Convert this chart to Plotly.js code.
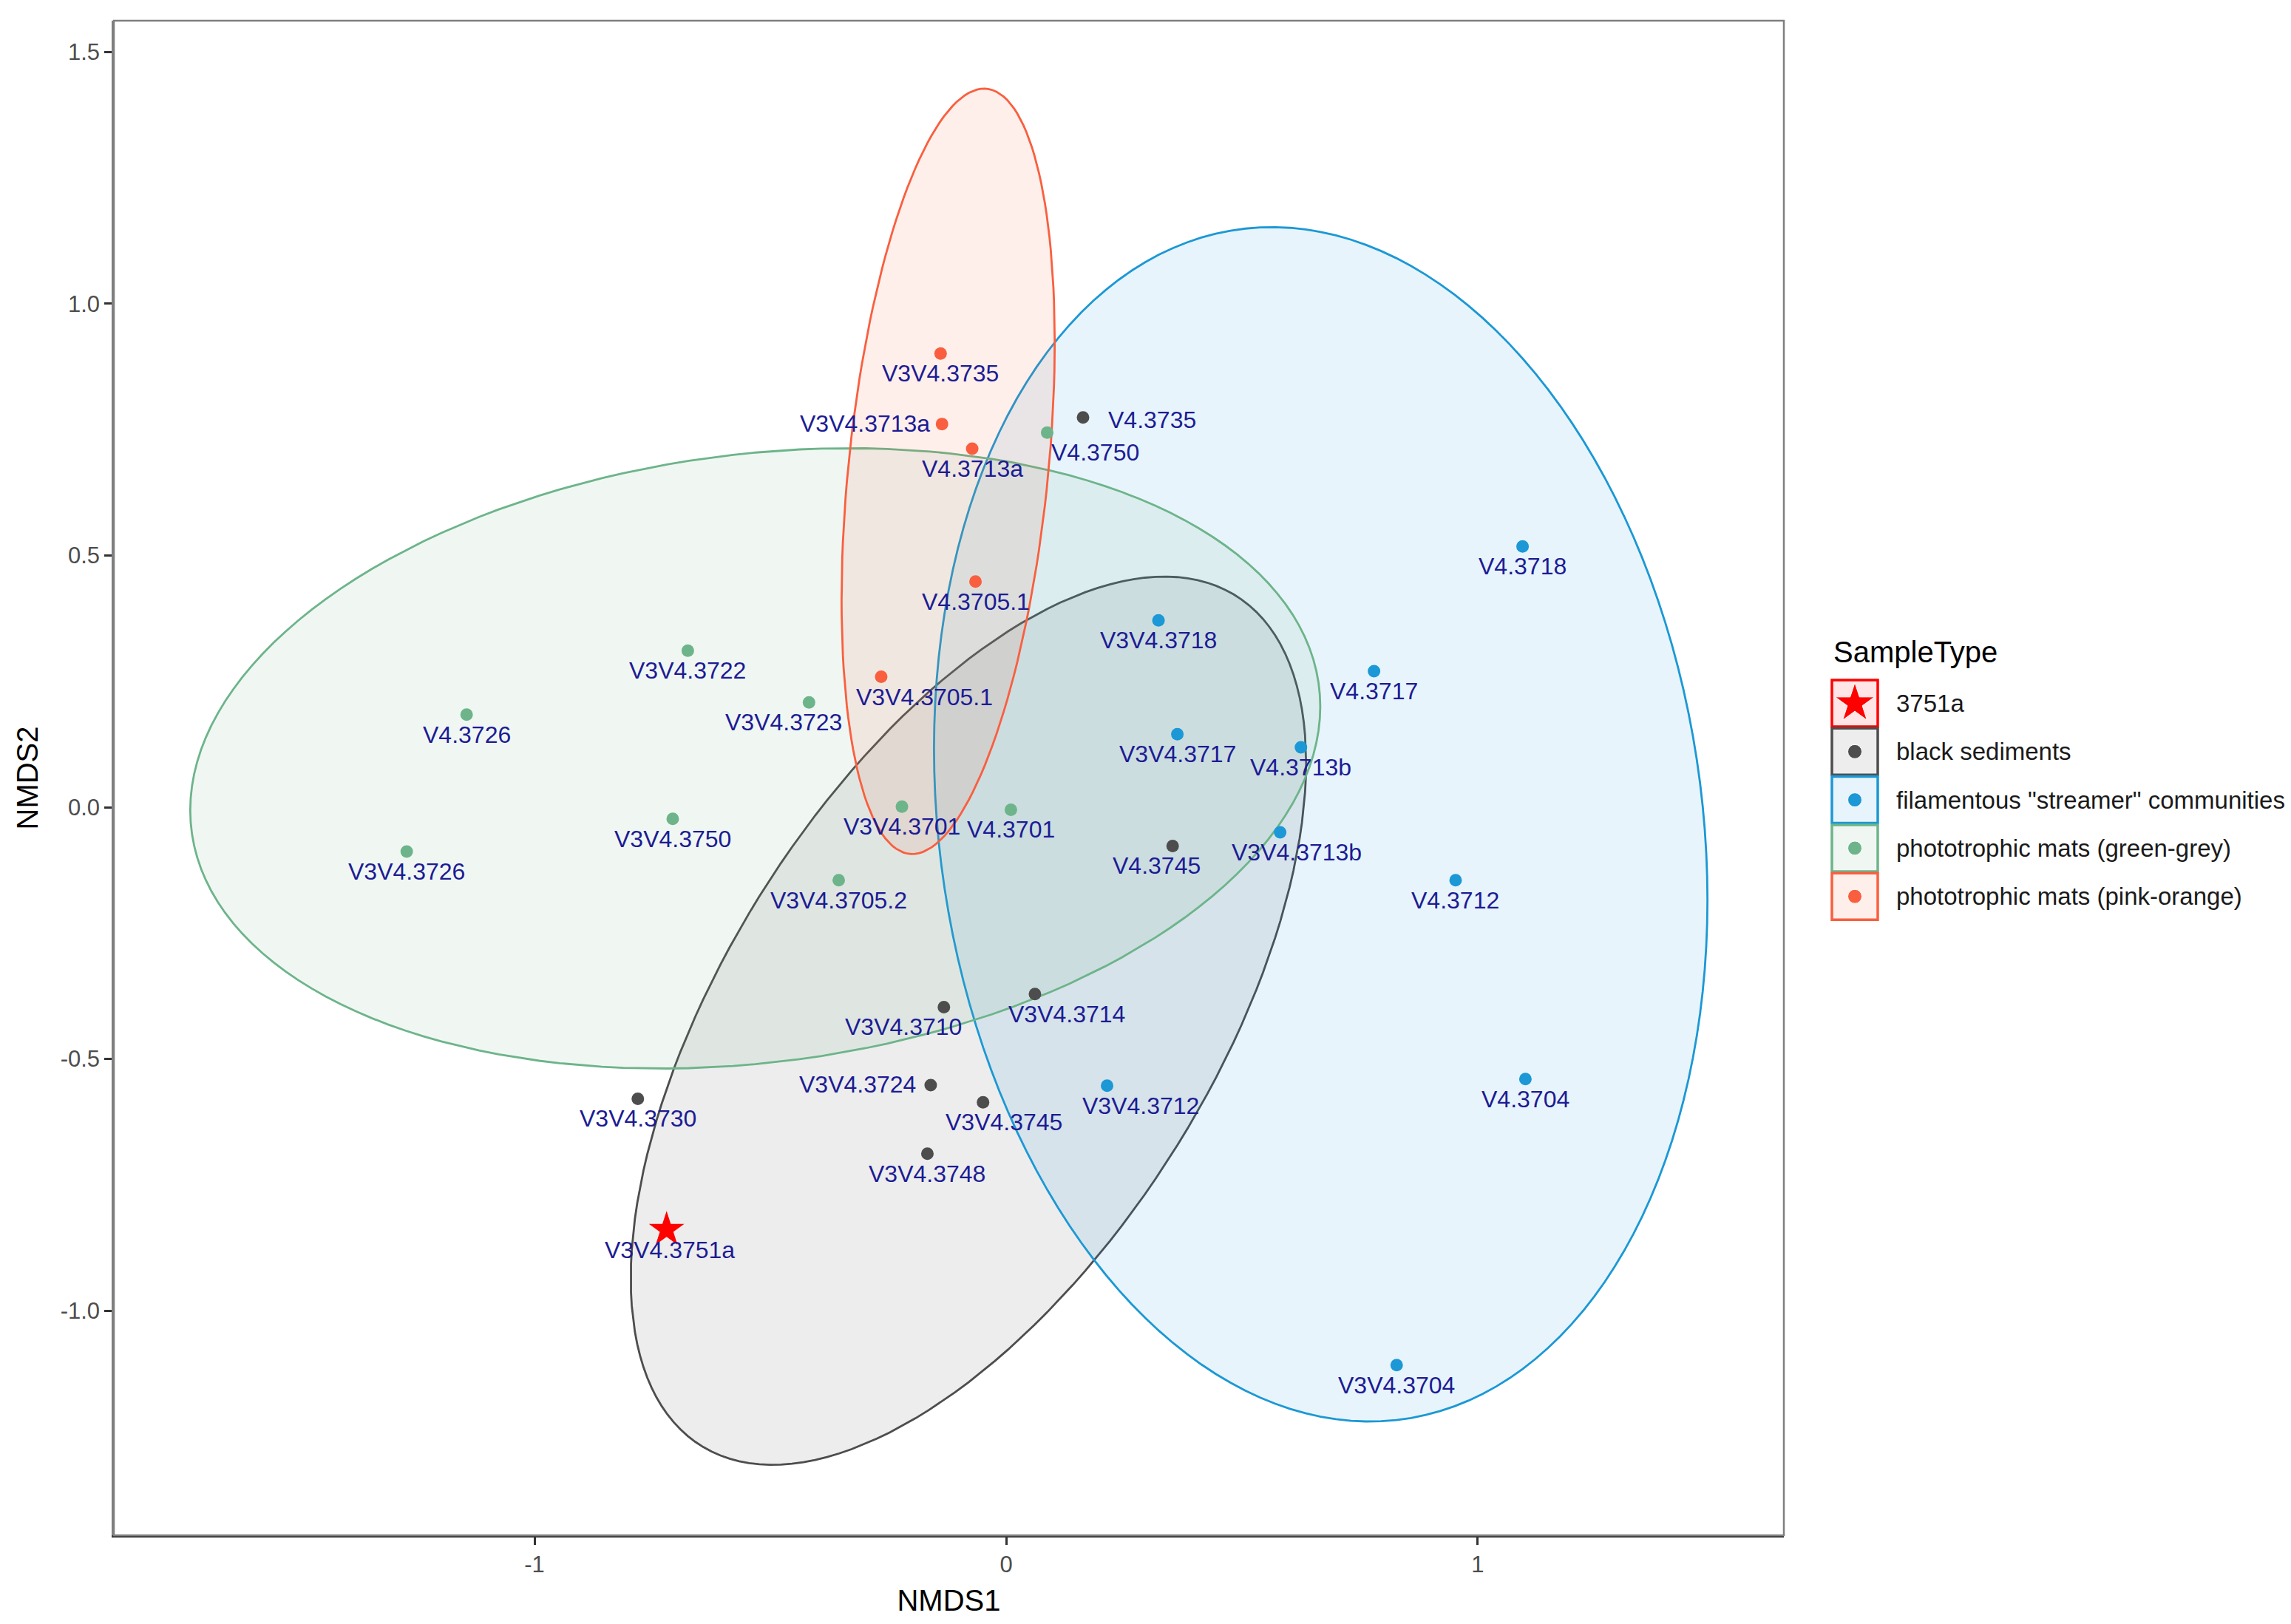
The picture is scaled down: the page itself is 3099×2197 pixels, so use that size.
<!DOCTYPE html>
<html>
<head>
<meta charset="utf-8">
<script src="https://cdn.plot.ly/plotly-3.0.1.min.js"></script>
<style>html,body{margin:0;padding:0;background:#fff;}#chart{width:3099px;height:2197px;}</style>
</head>
<body>
<div id="chart"></div>
<script>
// ---------------- data ----------------
const legendTitle = 'SampleType';
const groupNames = ['3751a', 'black sediments', 'filamentous "streamer" communities',
                    'phototrophic mats (green-grey)', 'phototrophic mats (pink-orange)'];

const starLabels = ['V3V4.3751a'];
const starX = [-0.720];
const starY = [-0.839];

const blackLabels = ['V4.3735','V4.3745','V3V4.3710','V3V4.3714','V3V4.3724','V3V4.3745','V3V4.3730','V3V4.3748'];
const blackX = [0.163, 0.353, -0.132, 0.061, -0.160, -0.049, -0.781, -0.167];
const blackY = [0.774, -0.077, -0.397, -0.371, -0.552, -0.586, -0.579, -0.688];

const blueLabels = ['V4.3718','V3V4.3718','V4.3717','V3V4.3717','V4.3713b','V3V4.3713b','V4.3712','V4.3704','V3V4.3712','V3V4.3704'];
const blueX = [1.095, 0.323, 0.780, 0.363, 0.625, 0.581, 0.953, 1.101, 0.214, 0.828];
const blueY = [0.518, 0.371, 0.270, 0.145, 0.119, -0.050, -0.145, -0.540, -0.553, -1.108];

const greenLabels = ['V4.3726','V3V4.3722','V3V4.3723','V3V4.3750','V3V4.3726','V3V4.3701','V4.3701','V3V4.3705.2','V4.3750'];
const greenX = [-1.144, -0.675, -0.418, -0.707, -1.271, -0.221, 0.010, -0.355, 0.087];
const greenY = [0.184, 0.311, 0.208, -0.023, -0.088, 0.001, -0.005, -0.145, 0.744];

const pinkLabels = ['V3V4.3735','V3V4.3713a','V4.3713a','V4.3705.1','V3V4.3705.1'];
const pinkX = [-0.139, -0.136, -0.072, -0.065, -0.265];
const pinkY = [0.901, 0.761, 0.712, 0.448, 0.259];

// ellipse estimates (data units): centre, half-width in x, half-height in y, y-offset of the x-extreme point
const ellBlack = {cx: -0.080, cy: -0.424, hx: 0.716, hy: 0.882, dy: 0.512};
const ellBlue  = {cx: 0.667,  cy: -0.034, hx: 0.820, hy: 1.186, dy: -0.150};
const ellGreen = {cx: -0.532, cy: 0.097,  hx: 1.198, hy: 0.616, dy: 0.103};
const ellPink  = {cx: -0.123, cy: 0.667,  hx: 0.226, hy: 0.760, dy: 0.256};

const xTickVals = [-1, 0, 1];
const xTickText = ['-1', '0', '1'];
const yTickVals = [-1.0, -0.5, 0.0, 0.5, 1.0, 1.5];
const yTickText = ['-1.0', '-0.5', '0.0', '0.5', '1.0', '1.5'];

// ---------------- styling ----------------
const colBlack = '#4d4d4d', colBlue = '#1b98d5', colGreen = '#6db48a', colPink = '#f95f3f', colStar = '#ff0000';
const groupColors = [colStar, colBlack, colBlue, colGreen, colPink];
const labelColor = '#1c1c94';
const FONT = 'Liberation Sans, Arial, Helvetica, sans-serif';

// label placement (pixel nudges, like the repelled labels of the original)
const labelNudge = {
  'V3V4.3710': -55, 'V3V4.3714': 43, 'V3V4.3745': 28, 'V3V4.3713b': 22, 'V4.3750': 65,
  'V3V4.3705.1': 59, 'V3V4.3723': -34, 'V3V4.3712': 45, 'V4.3745': -22, 'V3V4.3751a': 4
};
const labelLeft = {'V3V4.3713a': 14, 'V3V4.3724': 18};
const labelRight = {'V4.3735': 32};

function hexToRgba(h, a) {
  const r = parseInt(h.slice(1,3),16), g = parseInt(h.slice(3,5),16), b = parseInt(h.slice(5,7),16);
  return 'rgba(' + r + ',' + g + ',' + b + ',' + a + ')';
}

function ellipsePath(e) {
  const n = 160, xs = [], ys = [];
  const S = Math.sqrt(Math.max(e.hy*e.hy - e.dy*e.dy, 0));
  for (let i = 0; i <= n; i++) {
    const t = 2*Math.PI*i/n;
    xs.push(e.cx + e.hx*Math.cos(t));
    ys.push(e.cy + e.dy*Math.cos(t) + S*Math.sin(t));
  }
  return {x: xs, y: ys};
}

function ellipseTrace(e, name, col) {
  const p = ellipsePath(e);
  return {
    type: 'scatter', mode: 'lines', x: p.x, y: p.y, name: name,
    fill: 'toself', fillcolor: hexToRgba(col, 0.1),
    line: {color: col, width: 2.8}, hoverinfo: 'skip', showlegend: false
  };
}

function pointTrace(xs, ys, labels, col, name, symbol, size) {
  return {
    type: 'scatter', mode: 'markers', x: xs, y: ys, text: labels, name: name,
    marker: {color: col, size: size, symbol: symbol}, showlegend: false,
    hovertemplate: '%{text}<extra>' + name + '</extra>'
  };
}

const traces = [
  ellipseTrace(ellBlack, groupNames[1], colBlack),
  ellipseTrace(ellBlue,  groupNames[2], colBlue),
  ellipseTrace(ellGreen, groupNames[3], colGreen),
  ellipseTrace(ellPink,  groupNames[4], colPink),
  pointTrace(blackX, blackY, blackLabels, colBlack, groupNames[1], 'circle', 17),
  pointTrace(blueX, blueY, blueLabels, colBlue, groupNames[2], 'circle', 17),
  pointTrace(greenX, greenY, greenLabels, colGreen, groupNames[3], 'circle', 17),
  pointTrace(pinkX, pinkY, pinkLabels, colPink, groupNames[4], 'circle', 17),
  pointTrace(starX, starY, starLabels, colStar, groupNames[0], 'star', 36)
];

// ---------------- point labels (annotations on the data points) ----------------
const allLabels = [].concat(starLabels, blackLabels, blueLabels, greenLabels, pinkLabels);
const allX = [].concat(starX, blackX, blueX, greenX, pinkX);
const allY = [].concat(starY, blackY, blueY, greenY, pinkY);
const annotations = allLabels.map((l, i) => {
  const a = {x: allX[i], y: allY[i], xref: 'x', yref: 'y', text: l, showarrow: false,
             font: {family: FONT, size: 32, color: labelColor}, xanchor: 'center', yanchor: 'middle',
             xshift: 0, yshift: -27};
  if (labelLeft[l] !== undefined) { a.xanchor = 'right'; a.xshift = -labelLeft[l]; a.yshift = 1; }
  else if (labelRight[l] !== undefined) { a.xanchor = 'left'; a.xshift = labelRight[l]; a.yshift = -3; }
  else if (labelNudge[l] !== undefined) { a.xshift = labelNudge[l]; }
  return a;
});

// ---------------- ggplot-style legend in its own (hidden, pixel-scaled) subplot ----------------
const W = 3099, H = 2197, ML = 154, MR = 10, MT = 28, MB = 120;
const plotW = W - ML - MR;
const mainRight = 2413;                  // right edge of the data panel (px)
const legLeft = 2440;                    // left edge of the legend area (px)
const keyX0 = 2478, keyX1 = 2540, keyTop0 = 920, keyH = 63, keyStep = 65.3, textX = 2563;
const legendKeyY = groupNames.map((g, i) => keyTop0 + i*keyStep + keyH/2);
const shapes = [{type: 'rect', xref: 'x domain', yref: 'y domain', x0: 0, x1: 1, y0: 0, y1: 1,
                 line: {color: '#7f7f7f', width: 2.5}, fillcolor: 'rgba(0,0,0,0)', layer: 'above'}];
groupNames.forEach((g, i) => {
  shapes.push({type: 'rect', xref: 'x2', yref: 'y2', x0: keyX0, x1: keyX1,
               y0: legendKeyY[i] - keyH/2, y1: legendKeyY[i] + keyH/2,
               line: {color: groupColors[i], width: 3.5}, fillcolor: hexToRgba(groupColors[i], 0.1), layer: 'below'});
  annotations.push({x: textX, y: legendKeyY[i], xref: 'x2', yref: 'y2', text: g, showarrow: false,
                    xanchor: 'left', yanchor: 'middle', font: {family: FONT, size: 33, color: '#1a1a1a'}});
});
annotations.push({x: keyX0, y: 882, xref: 'x2', yref: 'y2', text: legendTitle, showarrow: false,
                  xanchor: 'left', yanchor: 'middle', font: {family: FONT, size: 40, color: '#000'}});
traces.push({
  type: 'scatter', mode: 'markers', xaxis: 'x2', yaxis: 'y2',
  x: groupNames.map(() => (keyX0 + keyX1)/2), y: legendKeyY, text: groupNames,
  marker: {color: groupColors, opacity: 1, size: groupNames.map((g, i) => i === 0 ? 40 : 19),
           symbol: groupNames.map((g, i) => i === 0 ? 'star' : 'circle')},
  showlegend: false, hoverinfo: 'skip', cliponaxis: false
});

const layout = {
  width: W, height: H,
  margin: {l: ML, r: MR, t: MT, b: MB},
  paper_bgcolor: '#ffffff', plot_bgcolor: '#ffffff',
  font: {family: FONT, color: '#000'},
  showlegend: false,
  xaxis: {
    domain: [0, (mainRight - ML)/plotW],
    range: [-1.892, 1.649], tickvals: xTickVals, ticktext: xTickText,
    showgrid: false, zeroline: false, showline: true, linecolor: '#333333', linewidth: 3,
    ticks: 'outside', ticklen: 10, tickwidth: 2.5, tickcolor: '#333333',
    tickfont: {family: FONT, size: 31, color: '#4d4d4d'},
    title: {text: 'NMDS1', font: {family: FONT, size: 40, color: '#000'}, standoff: 18}
  },
  yaxis: {
    range: [-1.446, 1.562], tickvals: yTickVals, ticktext: yTickText,
    showgrid: false, zeroline: false, showline: true, linecolor: '#7f7f7f', linewidth: 2.5,
    ticks: 'outside', ticklen: 10, tickwidth: 2.5, tickcolor: '#333333',
    tickfont: {family: FONT, size: 31, color: '#4d4d4d'},
    title: {text: 'NMDS2', font: {family: FONT, size: 40, color: '#000'}, standoff: 18}
  },
  xaxis2: {domain: [(legLeft - ML)/plotW, 1], range: [legLeft, W - MR], visible: false, fixedrange: true, anchor: 'y2'},
  yaxis2: {domain: [0, 1], range: [H - MB, MT], visible: false, fixedrange: true, anchor: 'x2'},
  shapes: shapes,
  annotations: annotations,
  hovermode: 'closest'
};

Plotly.newPlot('chart', traces, layout, {displayModeBar: false});
</script>
</body>
</html>
